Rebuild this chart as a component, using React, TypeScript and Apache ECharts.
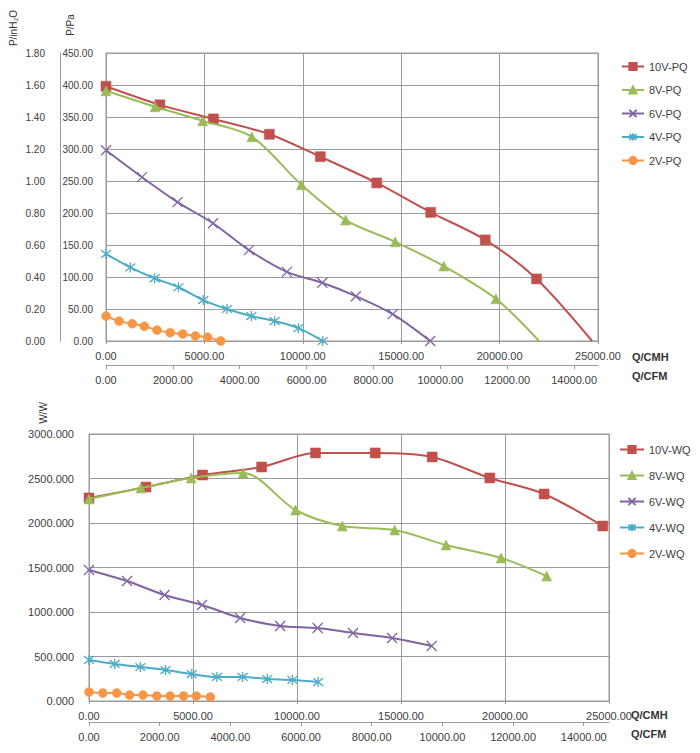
import React, { useEffect, useRef } from "react";
import * as echarts from "echarts";

// ---- data (Q in m3/h) ----
const q10 = [0, 2740, 5460, 8300, 10890, 13760, 16500, 19270, 21880, 24700];
const q8 = [0, 2495, 4915, 7410, 9930, 12175, 14695, 17165, 19810, 22005];
const q6 = [0, 1828, 3632, 5435, 7265, 9190, 10990, 12695, 14570, 16475];
const q4 = [0, 1235, 2470, 3680, 4940, 6150, 7385, 8570, 9780, 11015];
const q2 = [0, 665, 1335, 1950, 2595, 3260, 3900, 4545, 5160, 5830];

// pressure in Pa
const p10 = [398, 369, 347, 323, 288, 247, 201, 158, 97, 0];
const p8 = [391, 366, 344, 319, 244, 189, 155, 117, 66, 0];
const p6 = [298, 256, 217, 184, 142, 108, 91, 70, 42, 0];
const p4 = [136, 115, 98, 84, 64, 50, 39, 31, 20, 0];
const p2 = [39, 31, 27, 23, 17, 13, 11, 8, 6, 0];

// power in W
const w10 = [2281, 2404, 2539, 2629, 2787, 2787, 2742, 2506, 2326, 1966];
const w8 = [2270, 2393, 2506, 2562, 2146, 1966, 1921, 1753, 1607, 1404];
const w6 = [1472, 1348, 1191, 1079, 933, 843, 820, 764, 708, 618];
const w4 = [461, 416, 382, 348, 303, 270, 270, 247, 236, 213];
const w2 = [101, 90, 90, 67, 67, 56, 56, 56, 56, 45];

const pqNames = ["10V-PQ", "8V-PQ", "6V-PQ", "4V-PQ", "2V-PQ"];
const wqNames = ["10V-WQ", "8V-WQ", "6V-WQ", "4V-WQ", "2V-WQ"];
const colors = ["#C0504D", "#9BBB59", "#8064A2", "#4BACC6", "#F79646"];

const CMH_MAX = 25000;
const CFM_MAX = 25000 / 1.699;
const PA_MAX = 450;
const INH2O_MAX = 1.8;
const W_MAX = 3000;

const FONT = "'Liberation Sans', Arial, sans-serif";
const TXT = "#404040";
const GRID = "#9a9a9a";

const X_PATH = "path://M0,0L10,10M10,0L0,10";
const STAR_PATH = "path://M0,0L10,10M10,0L0,10M5,-1.5L5,11.5";

const symbols = ["rect", "triangle", X_PATH, STAR_PATH, "circle"];
const sizes = [10, 10, 10, 10, 9];

function pairs(q: number[], v: number[], hideEnd: boolean) {
  return q.map((x, i) => {
    if (hideEnd && i === q.length - 1) return { value: [x, v[i]], symbol: "none" };
    return [x, v[i]];
  });
}

export default function App() {
  const ref = useRef<HTMLDivElement>(null);
  useEffect(() => {
    if (!ref.current) return;
    const chart = echarts.init(ref.current, undefined, { renderer: "svg" });

    const qs = [q10, q8, q6, q4, q2];
    const ps = [p10, p8, p6, p4, p2];
    const ws = [w10, w8, w6, w4, w2];

    const mkSeries = (name: string, i: number, data: any[], xi: number, yi: number) => {
      const open = i === 2 || i === 3;
      return {
        name,
        type: "line",
        xAxisIndex: xi,
        yAxisIndex: yi,
        data,
        smooth: 0.3,
        symbol: symbols[i],
        symbolSize: sizes[i],
        showAllSymbol: true,
        lineStyle: { color: colors[i], width: 2 },
        itemStyle: open
          ? { color: colors[i], borderColor: colors[i], borderWidth: 1.3 }
          : { color: colors[i], borderColor: colors[i], borderWidth: 0.5 },
        z: 2 + i,
      };
    };

    const series: any[] = [];
    pqNames.forEach((n, i) => series.push(mkSeries(n, i, pairs(qs[i], ps[i], i < 2), 0, 0)));
    wqNames.forEach((n, i) => series.push(mkSeries(n, i, pairs(qs[i], ws[i], false), 2, 2)));

    const cmhAxis = (gi: number) => ({
      type: "value",
      gridIndex: gi,
      min: 0,
      max: CMH_MAX,
      interval: 5000,
      axisLine: { show: true, onZero: false, lineStyle: { color: GRID } },
      axisTick: { show: true, length: 3, lineStyle: { color: GRID } },
      splitLine: { show: true, lineStyle: { color: GRID, width: 1 } },
      axisLabel: {
        fontSize: 11,
        fontFamily: FONT,
        color: TXT,
        margin: 9,
        formatter: (v: number) => v.toFixed(2),
      },
    });
    const cfmAxis = (gi: number, offset: number) => ({
      type: "value",
      gridIndex: gi,
      position: "bottom",
      offset,
      min: 0,
      max: CFM_MAX,
      interval: 2000,
      axisLine: { show: true, onZero: false, lineStyle: { color: GRID } },
      axisTick: { show: true, length: 4, lineStyle: { color: GRID } },
      splitLine: { show: false },
      axisLabel: {
        fontSize: 11,
        fontFamily: FONT,
        color: TXT,
        margin: 9,
        showMaxLabel: false,
        formatter: (v: number) => (Math.abs(v % 2000) < 1e-6 ? v.toFixed(2) : ""),
      },
    });

    const text = (x: number, y: number, t: string, opts: any = {}) => ({
      type: "text",
      x,
      y,
      rotation: opts.rotation || 0,
      style: {
        text: t,
        fill: opts.fill || "#333",
        font: `${opts.weight || "normal"} ${opts.size || 11}px ${FONT}`,
        align: opts.align || "left",
        verticalAlign: "middle",
      },
    });

    chart.setOption({
      animation: false,
      backgroundColor: "#ffffff",
      grid: [
        { left: 106, top: 53, width: 492, height: 288, show: true, borderColor: GRID, borderWidth: 1 },
        { left: 89, top: 434, width: 520, height: 267, show: true, borderColor: GRID, borderWidth: 1 },
      ],
      xAxis: [cmhAxis(0), cfmAxis(0, 24), cmhAxis(1), cfmAxis(1, 21)],
      yAxis: [
        {
          type: "value",
          gridIndex: 0,
          min: 0,
          max: PA_MAX,
          interval: 50,
          axisLine: { show: true, onZero: false, lineStyle: { color: GRID } },
          axisTick: { show: false },
          splitLine: { show: true, lineStyle: { color: GRID } },
          axisLabel: {
            fontSize: 10,
            fontFamily: FONT,
            color: TXT,
            margin: 13,
            formatter: (v: number) => v.toFixed(2),
          },
        },
        {
          type: "value",
          gridIndex: 0,
          position: "left",
          offset: 46,
          min: 0,
          max: INH2O_MAX,
          interval: 0.2,
          axisLine: { show: true, onZero: false, lineStyle: { color: GRID } },
          axisTick: { show: false },
          splitLine: { show: false },
          axisLabel: {
            fontSize: 10,
            fontFamily: FONT,
            color: TXT,
            margin: 15,
            formatter: (v: number) => v.toFixed(2),
          },
        },
        {
          type: "value",
          gridIndex: 1,
          min: 0,
          max: W_MAX,
          interval: 500,
          axisLine: { show: true, onZero: false, lineStyle: { color: GRID } },
          axisTick: { show: false },
          splitLine: { show: true, lineStyle: { color: GRID } },
          axisLabel: {
            fontSize: 11,
            fontFamily: FONT,
            color: TXT,
            margin: 15,
            formatter: (v: number) => v.toFixed(3),
          },
        },
      ],
      legend: [
        {
          data: pqNames,
          orient: "vertical",
          left: 616,
          top: 56,
          itemWidth: 22,
          itemHeight: 9,
          itemGap: 12.5,
          textStyle: { fontSize: 11, fontFamily: FONT, color: TXT },
        },
        {
          data: wqNames,
          orient: "vertical",
          left: 614,
          top: 439,
          itemWidth: 24,
          itemHeight: 9,
          itemGap: 15,
          textStyle: { fontSize: 11, fontFamily: FONT, color: TXT },
        },
      ],
      graphic: [
        text(13, 28, "P/inH₂O", { rotation: Math.PI / 2, align: "center", size: 10 }),
        text(70, 25, "P/Pa", { rotation: Math.PI / 2, align: "center", size: 10 }),
        text(43, 413, "W/W", { rotation: Math.PI / 2, align: "center", size: 10 }),
        text(632, 357, "Q/CMH", { weight: "bold" }),
        text(632, 376, "Q/CFM", { weight: "bold" }),
        text(631, 715, "Q/CMH", { weight: "bold" }),
        text(631, 734, "Q/CFM", { weight: "bold" }),
      ],
      series,
    });

    return () => chart.dispose();
  }, []);

  return (
    <div
      ref={ref}
      style={{ position: "fixed", left: 0, top: 0, width: 700, height: 753, background: "#fff" }}
    />
  );
}
